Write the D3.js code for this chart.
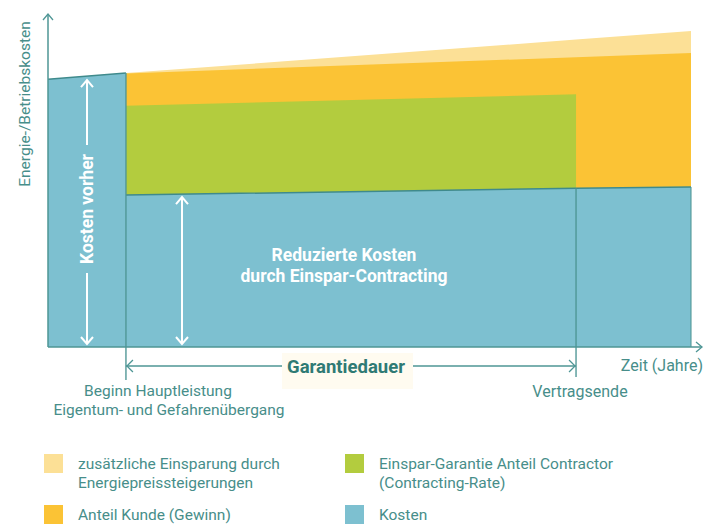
<!DOCTYPE html>
<html><head><meta charset="utf-8">
<script src="https://cdn.jsdelivr.net/npm/d3@7"></script>
<style>
body{margin:0;background:#fff;}
text{font-family:"Roboto","DejaVu Sans Condensed",sans-serif;}
</style></head><body>
<svg id="c" width="707" height="528"></svg>
<script>
// ---- data (conceptual years / relative cost units) ----
const phases = ["Start", "Beginn Hauptleistung", "Vertragsende", "Ende"];
const phaseYears = [0, 2, 13.55, 16.5];
const costsBefore = [80.2, 82.0];            // at Start, Beginn
const costsAfter = [45.5, 47.5, 47.9];       // at Beginn, Vertragsende, Ende
const contractorTop = [72.2, 75.7];          // at Beginn, Vertragsende
const customerTop = [81.9, 88.0];            // at Beginn, Ende
const extraTop = [82.0, 94.6];               // at Beginn, Ende
const legendLabels = [
  ["zusätzliche Einsparung durch", "Energiepreissteigerungen"],
  ["Anteil Kunde (Gewinn)"],
  ["Einspar-Garantie Anteil Contractor", "(Contracting-Rate)"],
  ["Kosten"]
];
const legendColors = ["#fce096", "#fbc335", "#b3cc3e", "#7dc0d0"];

const svg = d3.select("#c");
const x = d3.scaleLinear().domain([0, 16.5]).range([48, 691]);
const y = d3.scaleLinear().domain([0, 100]).range([347, 13]);
const teal = "#478e8a", line = "#4e9695", dark = "#3f8a8c";

const t0 = phaseYears[0], t1 = phaseYears[1], t2 = phaseYears[2], t3 = phaseYears[3];
const lerp = (a, b, ta, tb, t) => a + (b - a) * (t - ta) / (tb - ta);
const costAt = t => t <= t2 ? lerp(costsAfter[0], costsAfter[1], t1, t2, t) : lerp(costsAfter[1], costsAfter[2], t2, t3, t);

const area = d3.area().x(d => x(d.t)).y0(d => y(d.lo)).y1(d => y(d.hi));
svg.append("path").attr("fill", legendColors[0]).attr("d", area([
  {t: t1, lo: costAt(t1), hi: extraTop[0]}, {t: t2, lo: costAt(t2), hi: lerp(extraTop[0], extraTop[1], t1, t3, t2)}, {t: t3, lo: costAt(t3), hi: extraTop[1]}]));
svg.append("path").attr("fill", legendColors[1]).attr("d", area([
  {t: t1, lo: costAt(t1), hi: customerTop[0]}, {t: t2, lo: costAt(t2), hi: lerp(customerTop[0], customerTop[1], t1, t3, t2)}, {t: t3, lo: costAt(t3), hi: customerTop[1]}]));
svg.append("path").attr("fill", legendColors[2]).attr("d", area([
  {t: t1, lo: costAt(t1), hi: contractorTop[0]}, {t: t2, lo: costAt(t2), hi: contractorTop[1]}]));
svg.append("path").attr("fill", legendColors[3]).attr("d", area([
  {t: t0, lo: 0, hi: costsBefore[0]}, {t: t1, lo: 0, hi: costsBefore[1]}]));
svg.append("path").attr("fill", legendColors[3]).attr("d", area([
  {t: t1, lo: 0, hi: costAt(t1)}, {t: t2, lo: 0, hi: costAt(t2)}, {t: t3, lo: 0, hi: costAt(t3)}]));

const ln = d3.line().x(d => x(d[0])).y(d => y(d[1]));
svg.append("path").attr("d", ln([[t0, costsBefore[0]], [t1, costsBefore[1]]])).attr("stroke", dark).attr("stroke-width", 1.5).attr("fill", "none");
svg.append("path").attr("d", ln([[t1, costAt(t1)], [t2, costAt(t2)], [t3, costAt(t3)]])).attr("stroke", dark).attr("stroke-width", 1.5).attr("fill", "none");
svg.append("line").attr("x1", x(t1)).attr("x2", x(t1)).attr("y1", y(costsBefore[1])).attr("y2", 380).attr("stroke", line).attr("stroke-width", 1.6).attr("opacity", 0.85);
svg.append("line").attr("x1", x(t2)).attr("x2", x(t2)).attr("y1", y(costAt(t2))).attr("y2", 377).attr("stroke", line).attr("stroke-width", 1.6).attr("opacity", 0.85);
svg.append("line").attr("x1", x(t3)).attr("x2", x(t3)).attr("y1", y(costAt(t3))).attr("y2", y(0)).attr("stroke", line).attr("stroke-width", 1.5).attr("opacity", 0.7);

svg.append("line").attr("x1", 48).attr("x2", 48).attr("y1", y(0)).attr("y2", 14).attr("stroke", line).attr("stroke-width", 1.5);
svg.append("path").attr("d", "M43,20 L48,14 L53,20").attr("stroke", line).attr("stroke-width", 1.3).attr("fill", "none");
svg.append("line").attr("x1", 48).attr("x2", 702).attr("y1", y(0)).attr("y2", y(0)).attr("stroke", line).attr("stroke-width", 1.5);
svg.append("path").attr("d", `M696,${y(0)-5} L702,${y(0)} L696,${y(0)+5}`).attr("stroke", line).attr("stroke-width", 1.3).attr("fill", "none");

function vArrow(xx, ya, yb, gap) {
  const g = svg.append("g").attr("stroke", "#fff").attr("stroke-width", 2).attr("fill", "none");
  if (gap) {
    g.append("line").attr("x1", xx).attr("x2", xx).attr("y1", ya).attr("y2", gap[0]);
    g.append("line").attr("x1", xx).attr("x2", xx).attr("y1", gap[1]).attr("y2", yb);
  } else g.append("line").attr("x1", xx).attr("x2", xx).attr("y1", ya).attr("y2", yb);
  g.append("path").attr("d", `M${xx-6},${ya+7} L${xx},${ya} L${xx+6},${ya+7}`);
  g.append("path").attr("d", `M${xx-6},${yb-7} L${xx},${yb} L${xx+6},${yb-7}`);
}
vArrow(87, y(costsBefore[0]) + 1, y(0) - 3, [145, 273]);
vArrow(182, y(costAt(t1)) + 2, y(0) - 3);

svg.append("text").attr("transform", "translate(93,209) rotate(-90)").attr("text-anchor", "middle")
  .attr("fill", "#fff").attr("font-weight", "bold").attr("font-size", 17.5).text("Kosten vorher");
svg.append("text").attr("x", 344).attr("y", 261).attr("text-anchor", "middle").attr("fill", "#fff")
  .attr("font-weight", "bold").attr("font-size", 17.5).text("Reduzierte Kosten");
svg.append("text").attr("x", 344).attr("y", 282).attr("text-anchor", "middle").attr("fill", "#fff")
  .attr("font-weight", "bold").attr("font-size", 17.5).text("durch Einspar-Contracting");

const gy = 366;
svg.append("line").attr("x1", x(t1)).attr("x2", x(t2)).attr("y1", gy).attr("y2", gy).attr("stroke", line).attr("stroke-width", 1.4);
svg.append("path").attr("d", `M${x(t1)+7},${gy-6} L${x(t1)+1},${gy} L${x(t1)+7},${gy+6}`).attr("stroke", line).attr("stroke-width", 1.3).attr("fill", "none");
svg.append("path").attr("d", `M${x(t2)-7},${gy-6} L${x(t2)-1},${gy} L${x(t2)-7},${gy+6}`).attr("stroke", line).attr("stroke-width", 1.3).attr("fill", "none");
svg.append("rect").attr("x", 282).attr("y", 353).attr("width", 131).attr("height", 36).attr("fill", "#fffbf0");
svg.append("text").attr("x", 346).attr("y", 372.5).attr("text-anchor", "middle").attr("fill", "#2f7a74")
  .attr("font-weight", "bold").attr("font-size", 18.5).text("Garantiedauer");

const lab = (t, xx, yy, anchor, fs) => svg.append("text").attr("x", xx).attr("y", yy).attr("text-anchor", anchor || "middle").attr("fill", teal).attr("font-size", fs || 16).text(t);
lab("Zeit (Jahre)", 703, 371, "end");
lab("Vertragsende", 580, 397);
lab("Beginn Hauptleistung", 158, 396, "middle", 15.5);
lab("Eigentum- und Gefahrenübergang", 169, 415, "middle", 15.5);
svg.append("text").attr("transform", "translate(30,104) rotate(-90)").attr("text-anchor", "middle")
  .attr("fill", teal).attr("font-size", 15.5).text("Energie-/Betriebskosten");

const lpos = [[44, 454], [44, 505], [345, 454], [345, 505]];
legendLabels.forEach((ls, i) => {
  svg.append("rect").attr("x", lpos[i][0]).attr("y", lpos[i][1]).attr("width", 19).attr("height", 19).attr("fill", legendColors[i]);
  ls.forEach((s, j) => svg.append("text").attr("x", lpos[i][0] + 34).attr("y", lpos[i][1] + 15 + j * 18.5)
    .attr("fill", teal).attr("font-size", 15.5).text(s));
});
</script></body></html>
